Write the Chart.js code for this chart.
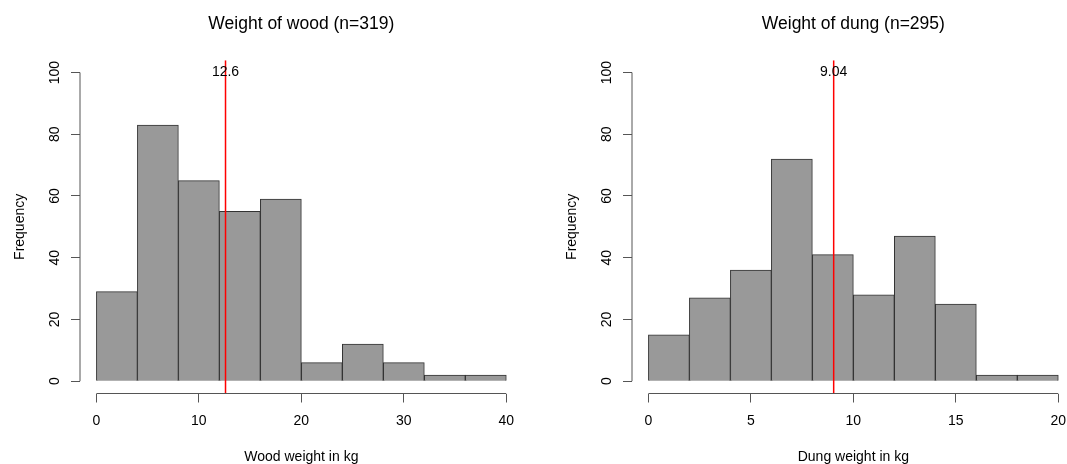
<!DOCTYPE html>
<html>
<head>
<meta charset="utf-8">
<title>Weight of wood and dung</title>
<script src="https://cdn.jsdelivr.net/npm/chart.js@4/dist/chart.umd.min.js"></script>
<style>
  html, body { margin: 0; padding: 0; background: #fff; overflow: hidden; }
  .panel { position: absolute; top: 0; width: 552px; height: 464px; }
  #woodPanel { left: 0; }
  #dungPanel { left: 552px; }
</style>
</head>
<body>
<div class="panel" id="woodPanel"><canvas id="woodChart"></canvas></div>
<div class="panel" id="dungPanel"><canvas id="dungChart"></canvas></div>
<script>
// wood: 4 kg bins, 0 to 40
const woodBreaks = [0, 4, 8, 12, 16, 20, 24, 28, 32, 36, 40];
const woodCounts = [29, 83, 65, 55, 59, 6, 12, 6, 2, 2];
const woodMean = 12.6;
const woodTicks = [0, 10, 20, 30, 40];

// dung: 2 kg bins, 0 to 20
const dungBreaks = [0, 2, 4, 6, 8, 10, 12, 14, 16, 18, 20];
const dungCounts = [15, 27, 36, 72, 41, 28, 47, 25, 2, 2];
const dungMean = 9.04;
const dungTicks = [0, 5, 10, 15, 20];

const freqTicks = [0, 20, 40, 60, 80, 100];
const freqMax = 100;

const FONT = "'Liberation Sans', Arial, Helvetica, sans-serif";
Chart.defaults.font.family = FONT;
Chart.defaults.font.size = 14;
Chart.defaults.color = '#000';

// base-graphics style axes: line only between first and last tick,
// y labels reading bottom to top, the mean written above the red line,
// and the main title centred over the plot area
const baseAxes = {
  id: 'baseAxes',
  afterDraw(chart, args, opts) {
    const { ctx, chartArea, scales: { x, y } } = chart;
    const yTop = y.getPixelForValue(y.ticks[y.ticks.length - 1].value);
    const yBot = y.getPixelForValue(y.ticks[0].value);
    const xL = x.getPixelForValue(x.ticks[0].value);
    const xR = x.getPixelForValue(x.ticks[x.ticks.length - 1].value);
    ctx.save();
    ctx.strokeStyle = '#555';
    ctx.lineWidth = 1;
    ctx.beginPath();
    ctx.moveTo(chartArea.left, yBot);
    ctx.lineTo(chartArea.left, yTop);
    ctx.moveTo(xL, chartArea.bottom);
    ctx.lineTo(xR, chartArea.bottom);
    ctx.stroke();

    ctx.fillStyle = '#000';
    ctx.font = '14px ' + FONT;
    ctx.textAlign = 'center';
    ctx.textBaseline = 'middle';
    y.ticks.forEach(t => {
      ctx.save();
      ctx.translate(chartArea.left - 25, y.getPixelForValue(t.value));
      ctx.rotate(-Math.PI / 2);
      ctx.fillText(String(t.value), 0, 0);
      ctx.restore();
    });

    ctx.fillText(String(opts.mean), x.getPixelForValue(opts.mean), y.getPixelForValue(freqMax));

    ctx.font = '17.5px ' + FONT;
    ctx.fillText(opts.title, (chartArea.left + chartArea.right) / 2, 24);
    ctx.restore();
  }
};

function makeHist(id, breaks, counts, mean, xTicks, title, xTitle) {
  const lo = breaks[0];
  const hi = breaks[breaks.length - 1];
  const xPad = (hi - lo) * 0.04;
  const yPad = freqMax * 0.04;
  const bins = counts.map((c, i) => ({ x: (breaks[i] + breaks[i + 1]) / 2, y: c }));

  return new Chart(document.getElementById(id), {
    type: 'bar',
    data: {
      datasets: [
        {
          type: 'line',
          data: [{ x: mean, y: -yPad }, { x: mean, y: freqMax + yPad }],
          borderColor: '#ff0000',
          borderWidth: 1.5,
          pointRadius: 0,
          order: 0
        },
        {
          data: bins,
          backgroundColor: '#999999',
          borderColor: '#333333',
          borderWidth: 1,
          barPercentage: 1,
          categoryPercentage: 1,
          order: 1
        }
      ]
    },
    options: {
      responsive: true,
      maintainAspectRatio: false,
      animation: false,
      layout: { padding: { left: 0, right: 29.3, top: 60.2, bottom: 0 } },
      plugins: {
        legend: { display: false },
        tooltip: { enabled: false },
        title: { display: false },
        baseAxes: { mean: mean, title: title }
      },
      scales: {
        x: {
          type: 'linear',
          min: lo - xPad,
          max: hi + xPad,
          offset: false,
          afterBuildTicks: s => { s.ticks = xTicks.map(v => ({ value: v })); },
          afterFit: s => { s.height = 70.5; },
          grid: { drawOnChartArea: false, offset: false, color: '#555', tickLength: 9 },
          border: { display: false },
          ticks: { color: '#000', font: { size: 14 }, padding: 10, maxRotation: 0, autoSkip: false },
          title: { display: true, text: xTitle, color: '#000', font: { size: 14 }, padding: { top: 0, bottom: -2 } }
        },
        y: {
          type: 'linear',
          min: -yPad,
          max: freqMax + yPad,
          afterBuildTicks: s => { s.ticks = freqTicks.map(v => ({ value: v })); },
          afterFit: s => { s.width = 80; },
          grid: { drawOnChartArea: false, color: '#555', tickLength: 9 },
          border: { display: false },
          ticks: { display: false },
          title: { display: true, text: 'Frequency', color: '#000', font: { size: 14 }, padding: { top: 12, bottom: 0 } }
        }
      }
    },
    plugins: [baseAxes]
  });
}

makeHist('woodChart', woodBreaks, woodCounts, woodMean, woodTicks, 'Weight of wood (n=319)', 'Wood weight in kg');
makeHist('dungChart', dungBreaks, dungCounts, dungMean, dungTicks, 'Weight of dung (n=295)', 'Dung weight in kg');
</script>
</body>
</html>
